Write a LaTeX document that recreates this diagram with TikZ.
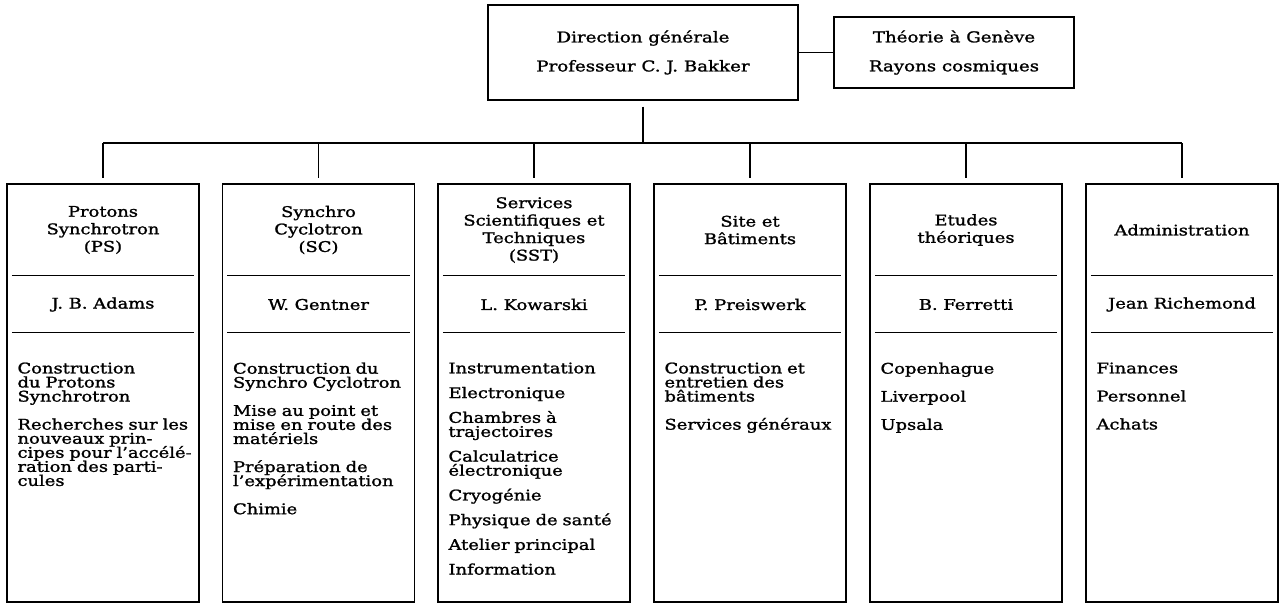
\documentclass[tikz,border=0pt]{standalone}
\usepackage{fontspec}
\setmainfont{DejaVu Serif}[FakeStretch=1.22,FakeBold=1.4]
\usetikzlibrary{calc}
\newcommand\jl[2]{\makebox[#1][s]{#2}}
\newcommand\bstart{\rule{0pt}{8pt}}
\newcommand\tightlines{\lineskiplimit=-20pt\lineskip=0pt}
\begin{document}
\begin{tikzpicture}[x=0.75pt,y=-0.75pt,
  ln/.style={line width=1.1pt},
  topbox/.style={draw,ln,inner sep=0pt,align=center,
    font=\fontsize{11.2}{21.75}\selectfont\tightlines},
  colbox/.style={draw,ln,inner sep=0pt,minimum width=144pt,minimum height=313.5pt},
  head/.style={inner sep=0pt,align=center,font=\fontsize{11}{13.1}\selectfont\tightlines},
  body/.style={anchor=north west,inner sep=0pt,text width=#1,align=left,
    font=\fontsize{11}{10.55}\selectfont\tightlines},
  body/.default=127.5pt]
\useasboundingbox (0,0) rectangle (1279,604);
% top
\node[topbox,minimum width=232.5pt,minimum height=71.25pt] (dg) at (643,52.5)
  {Direction générale\\Professeur C. J. Bakker};
\node[topbox,minimum width=180pt,minimum height=53.25pt] (th) at (954,52.5)
  {Théorie à Genève\\Rayons cosmiques};
\draw[ln] (dg.east) -- (th.west);
\coordinate (b) at (643,143);
% columns
\newcommand\orgcol[6]{%
  \node[colbox] (#1) at (#2,393) {};
  \draw[ln] ($(#1.north west)+(5.5,92)$) -- ($(#1.north east)+(-5.5,92)$);
  \draw[ln] ($(#1.north west)+(5.5,149)$) -- ($(#1.north east)+(-5.5,149)$);
  \node[head] (#1h) at (#2,230) {#3};
  \node[head] (#1n) at (#2,304.5) {#4};
  \node[body=#5] (#1b) at ($(#1.north west)+(11,179)$) {\bstart #6};
  \draw[ln,shorten >=3.75pt] (#1.north |- b) -- (#1.north);
}
\orgcol{ps}{103}{Protons\\Synchrotron\\(PS)}{J. B. Adams}{127.5pt}
  {Construction\\du Protons\\Synchrotron\\[10.5pt]
   \jl{127.5pt}{Recherches sur les}\\nouveaux prin-\\\jl{127.5pt}{cipes pour l’accélé-}\\ration des parti-\\cules}
\orgcol{sc}{318.5}{Synchro\\Cyclotron\\(SC)}{W. Gentner}{135pt}
  {Construction du\\Synchro Cyclotron\\[10.5pt]
   \jl{135pt}{Mise au point et}\\\jl{135pt}{mise en route des}\\matériels\\[10.5pt]
   Préparation de\\l’expérimentation\\[10.5pt]Chimie}
\orgcol{sst}{534}{Services\\Scientifiques et\\Techniques\\(SST)}{L. Kowarski}{130pt}
  {Instrumentation\\[8pt]Electronique\\[8pt]Chambres à\\trajectoires\\[8pt]
   Calculatrice\\électronique\\[8pt]Cryogénie\\[8pt]Physique de santé\\[8pt]
   Atelier principal\\[8pt]Information}
\orgcol{sb}{750}{Site et\\Bâtiments}{P. Preiswerk}{130pt}
  {Construction et\\entretien des\\bâtiments\\[10.5pt]Services généraux}
\orgcol{et}{966}{Etudes\\théoriques}{B. Ferretti}{130pt}
  {Copenhague\\[10.5pt]Liverpool\\[10.5pt]Upsala}
\orgcol{ad}{1182}{Administration}{Jean Richemond}{130pt}
  {Finances\\[10.5pt]Personnel\\[10.5pt]Achats}
\draw[ln,shorten <=4.5pt] (dg) -- (b);
\draw[ln] (ps.north |- b) -- (ad.north |- b);
\end{tikzpicture}
\end{document}
